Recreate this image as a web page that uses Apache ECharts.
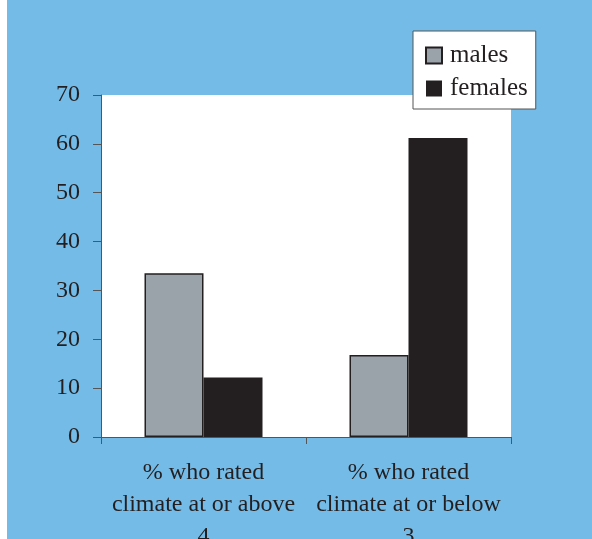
<!DOCTYPE html>
<html>
<head>
<meta charset="utf-8">
<script src="https://cdn.jsdelivr.net/npm/echarts@6/dist/echarts.min.js"></script>
<style>
html,body{margin:0;padding:0;background:#fff;}
#chart{width:592px;height:539px;}
</style>
</head>
<body>
<div id="chart"></div>
<script>
const categories = ["% who rated\nclimate at or above\n4", "% who rated\nclimate at or below\n3"];
const males = [33.5, 16.8];
const females = [12.2, 61.2];
const yTicks = [0, 10, 20, 30, 40, 50, 60, 70];

const chart = echarts.init(document.getElementById('chart'), null, {renderer: 'canvas'});
const font = 'Liberation Serif';
chart.setOption({
  backgroundColor: '#ffffff',
  animation: false,
  graphic: [{
    type: 'rect', z: -10, silent: true,
    shape: {x: 7, y: 0, width: 585, height: 539},
    style: {fill: '#74bbe7'}
  }],
  grid: {
    left: 101, right: 81, top: 95, bottom: 102,
    outerBoundsMode: 'none', containLabel: false,
    show: true, backgroundColor: '#ffffff', borderWidth: 0
  },
  legend: {
    left: 413, top: 31,
    orient: 'vertical',
    backgroundColor: '#ffffff',
    borderColor: '#555555', borderWidth: 1,
    padding: [12, 8, 8, 12],
    itemWidth: 16, itemHeight: 16, itemGap: 8,
    icon: 'rect',
    textStyle: {fontFamily: font, fontSize: 25, lineHeight: 24, color: '#231f20', padding: [0, 0, 0, 3]},
    data: ['males', 'females']
  },
  xAxis: {
    type: 'category',
    data: categories,
    axisLine: {lineStyle: {color: '#555555', width: 1}},
    axisTick: {show: true, length: 7, lineStyle: {color: '#555555'}},
    axisLabel: {
      fontFamily: font, fontSize: 24, lineHeight: 32, color: '#231f20',
      margin: 20, interval: 0
    }
  },
  yAxis: {
    type: 'value', min: 0, max: 70, interval: 10,
    axisLine: {show: true, lineStyle: {color: '#555555', width: 1}},
    axisTick: {show: true, length: 8, lineStyle: {color: '#555555'}},
    splitLine: {show: false},
    axisLabel: {
      fontFamily: font, fontSize: 24, color: '#231f20', margin: 21,
      formatter: v => yTicks.includes(v) ? String(v) : ''
    }
  },
  series: [
    {
      name: 'males', type: 'bar', data: males,
      barWidth: 59, barGap: '0%',
      itemStyle: {color: '#9aa2aa', borderColor: '#231f20', borderWidth: 1.5}
    },
    {
      name: 'females', type: 'bar', data: females,
      barWidth: 59, barGap: '0%',
      itemStyle: {color: '#231f20'}
    }
  ]
});
</script>
</body>
</html>
